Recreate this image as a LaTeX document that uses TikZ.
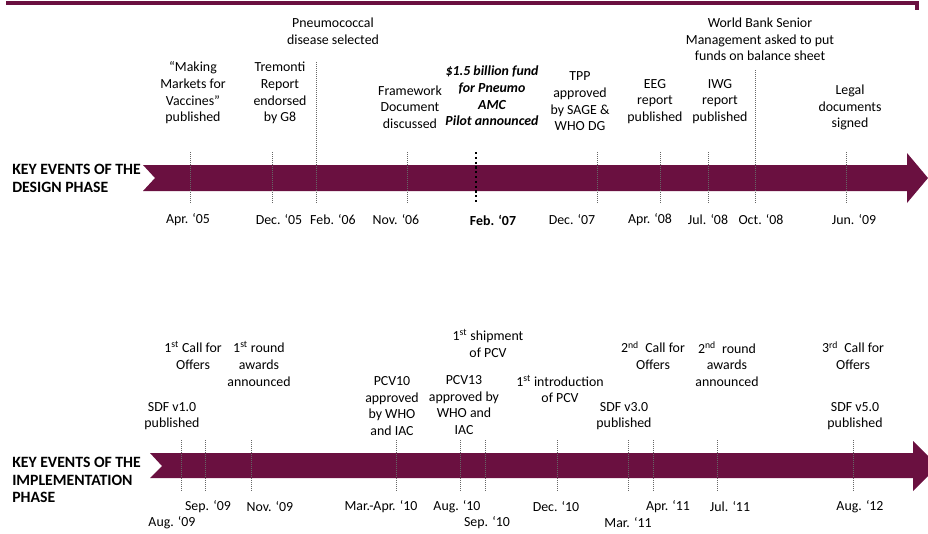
\documentclass[tikz,border=0pt]{standalone}
\usepackage{fontspec}
\setmainfont{Carlito}
\usepackage{xcolor}
\usepackage{tikz}
\usetikzlibrary{positioning}
\definecolor{plum}{RGB}{106,16,64}

\begin{document}
\begin{tikzpicture}[x=0.75pt, y=-0.75pt,
	evt/.style={align=center, inner sep=0pt, font=\fontsize{10.4}{12.5}\selectfont},
	dte/.style={inner sep=0pt, font=\fontsize{10.4}{12.5}\selectfont},
	phase/.style={align=left, anchor=west, inner sep=0pt, font=\fontsize{11.8}{13.1}\selectfont\bfseries},
	tick/.style={densely dotted, black!60, line width=0.5pt}]
		\clip (0,0) rectangle (928,533);
		% Top rule
		\draw[plum, line width=2.4pt] (6,3) -| (917,10);

		% Design phase band
		\fill[plum] (143,165) -- (907,165) -- (907,153) -- (928,178) -- (907,203) -- (907,191) -- (143,191) -- (155,178) -- cycle;
		\node[phase] (dlabel) at (12,178.5) {KEY EVENTS OF THE\\DESIGN PHASE};
		\foreach \x in {190,272,407,597,660,708,846} \draw[tick] (\x,152) -- (\x,203);
		\draw[tick] (316,62) -- (316,203);
		\draw[tick] (755,70) -- (755,203);
		\draw[black, line width=1.8pt, dash pattern=on 1.6pt off 2pt] (476,152) -- (476,203);

		\node[evt] (mkt) at (193,93) {“Making\\Markets for\\Vaccines”\\published};
		\node[evt] (trem) at (280,93) {Tremonti\\Report\\endorsed\\by G8};
		\node[evt] (pneu) at (333,31.5) {Pneumococcal\\disease selected};
		\node[evt] (frame) at (410,107) {Framework\\Document\\discussed};
		\node[evt, font=\fontsize{10.4}{12.5}\selectfont\bfseries\itshape] (fund) at (492,96) {\$1.5 billion fund\\for Pneumo\\AMC\\Pilot announced};
		\node[evt] (tpp) at (580,101.5) {TPP\\approved\\by SAGE \&\\WHO DG};
		\node[evt] (eeg) at (655,101.5) {EEG\\report\\published};
		\node[evt] (iwg) at (720,101.5) {IWG\\report\\published};
		\node[evt] (wb) at (760,39.5) {World Bank Senior\\Management asked to put\\funds on balance sheet};
		\node[evt] (legal) at (850,107.5) {Legal\\documents\\signed};

		\node[dte] (apr05) at (188,220) {Apr. ‘05};
		\node[dte] (dec05) at (279,220) {Dec. ‘05};
		\node[dte] (feb06) at (333,220) {Feb. ‘06};
		\node[dte] (nov06) at (396,220) {Nov. ‘06};
		\node[dte, font=\fontsize{10.4}{12.5}\selectfont\bfseries] (feb07) at (493,220) {Feb. ‘07};
		\node[dte] (dec07) at (572,220) {Dec. ‘07};
		\node[dte] (apr08) at (650,220) {Apr. ‘08};
		\node[dte] (jul08) at (708,220) {Jul. ‘08};
		\node[dte] (oct08) at (761,220) {Oct. ‘08};
		\node[dte] (jun09) at (854,220) {Jun. ‘09};

		% Implementation phase band
		\fill[plum] (150,453) -- (913,453) -- (913,441) -- (938,466) -- (913,491) -- (913,478) -- (150,478) -- (162,466) -- cycle;
		\node[phase] (ilabel) at (12,480) {KEY EVENTS OF THE\\IMPLEMENTATION\\PHASE};
		\foreach \x in {181,205,251,396,460,485,557,628,653,717,853} \draw[tick] (\x,440) -- (\x,492);

		\node[evt] (call1) at (193,355.5) {1\textsuperscript{st} Call for\\Offers};
		\node[evt] (round1) at (259,364) {1\textsuperscript{st} round\\awards\\announced};
		\node[evt] (sdf1) at (172,416) {SDF v1.0\\published};
		\node[evt] (pcv10) at (392,406) {PCV10\\approved\\by WHO\\and IAC};
		\node[evt] (pcv13) at (464,405) {PCV13\\approved by\\WHO and\\IAC};
		\node[evt] (ship1) at (488,343.5) {1\textsuperscript{st} shipment\\of PCV};
		\node[evt] (intro1) at (560,389) {1\textsuperscript{st} introduction\\of PCV};
		\node[evt] (sdf3) at (624,416) {SDF v3.0\\published};
		\node[evt] (call2) at (653,355.5) {2\textsuperscript{nd}\ \ Call for\\Offers};
		\node[evt] (round2) at (727,364) {2\textsuperscript{nd}\ \ round\\awards\\announced};
		\node[evt] (call3) at (853,355.5) {3\textsuperscript{rd}\ \ Call for\\Offers};
		\node[evt] (sdf5) at (855,416) {SDF v5.0\\published};

		\node[dte] (sep09) at (208,507) {Sep. ‘09};
		\node[dte] (nov09) at (270,507) {Nov. ‘09};
		\node[dte] (marapr10) at (381,507) {Mar.-Apr. ‘10};
		\node[dte] (aug10) at (457,507) {Aug. ‘10};
		\node[dte] (dec10) at (556,507) {Dec. ‘10};
		\node[dte] (apr11) at (668,507) {Apr. ‘11};
		\node[dte] (jul11) at (730,507) {Jul. ‘11};
		\node[dte] (aug12) at (860,507) {Aug. ‘12};
		\node[dte] (aug09) at (172,523) {Aug. ‘09};
		\node[dte] (sep10) at (487,523) {Sep. ‘10};
		\node[dte] (mar11) at (628,523) {Mar. ‘11};
	\end{tikzpicture}
\end{document}
